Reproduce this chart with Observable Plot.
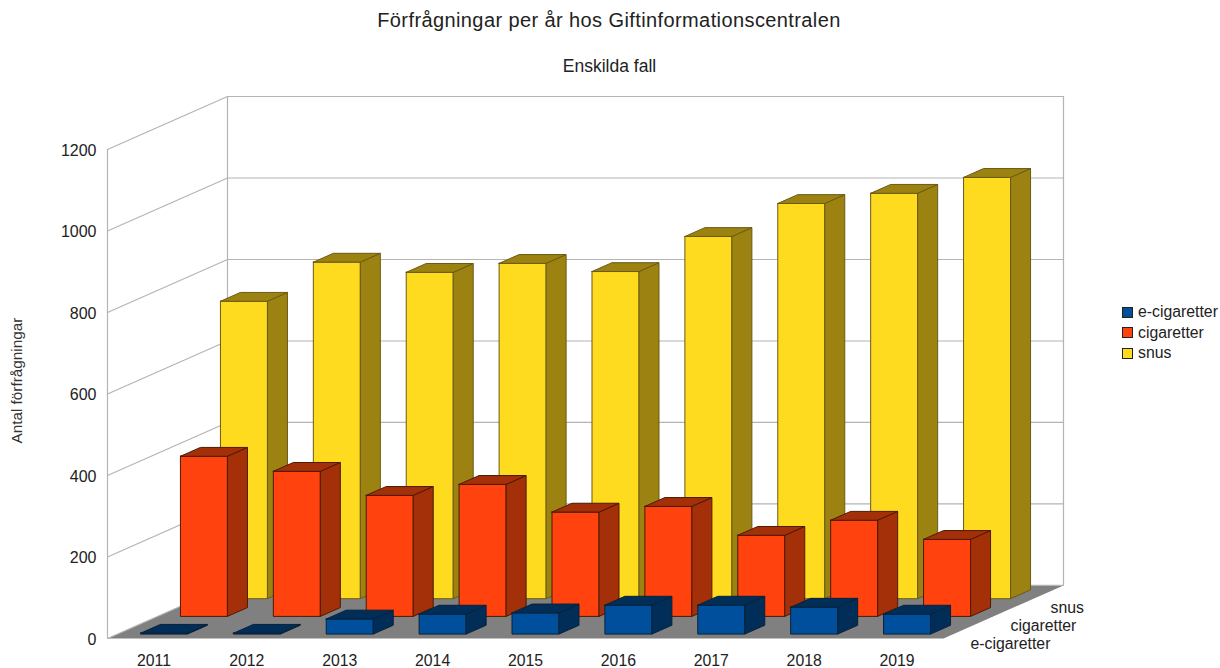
<!DOCTYPE html>
<html><head><meta charset="utf-8">
<script src="https://cdn.jsdelivr.net/npm/d3@7"></script>
<script src="https://cdn.jsdelivr.net/npm/@observablehq/plot@0.6"></script>
<style>
html,body{margin:0;padding:0;background:#fff;font-family:"Liberation Sans",sans-serif;color:#222}
#wrap{position:relative;width:1220px;height:668px;overflow:hidden}
#head{height:80px;position:relative}
#t{position:absolute;left:0;width:1218px;top:9px;text-align:center;font-size:20px;letter-spacing:.4px;line-height:22px}
#s{position:absolute;left:0;width:1219px;top:56px;text-align:center;font-size:17.5px;line-height:20px}
#legend{position:absolute;left:1122px;top:302px;font-size:15.8px;line-height:20.5px}
#legend div{display:flex;align-items:center;white-space:nowrap}
#legend i{display:inline-block;width:9px;height:9px;border:1px solid #222;margin-right:5px}
svg{display:block;font-family:"Liberation Sans",sans-serif}
</style></head><body>
<div id="wrap">
<div id="head"><div id="t"></div><div id="s"></div></div>
<div id="chart"></div>
<div id="legend"></div>
</div>
<script>
const titleText = "Förfrågningar per år hos Giftinformationscentralen";
const subtitleText = "Enskilda fall";
const yLabelText = "Antal förfrågningar";
const years = [2011,2012,2013,2014,2015,2016,2017,2018,2019];
const seriesNames = ["e-cigaretter","cigaretter","snus"];
const ecig = [2,2,37,49,52,71,71,66,49];
const cig = [393,356,297,324,256,270,199,236,189];
const snus = [730,826,801,823,803,889,970,995,1034];
const yTicks = [0,200,400,600,800,1000,1200];
const frontColors = ["#004f9c","#ff420e","#ffdb1f"];
const sideColors = ["#002e58","#a33008","#9c8210"];
const strokeColors = ["#0a2238","#4d1a05","#6b5a14"];

// oblique chart geometry, in chart units: one depth slot shifts a point along x and y
const depthX = 0.4306, depthY = 43.4, depthSlots = 3, yMax = 1200;
const barW = 0.506, barD = 0.5;
const px = (c,d) => c + d*depthX;
const py = (v,d) => v + d*depthY;
const seriesValues = [ecig,cig,snus];

const walls=[], polys=[];
let id=0;
const poly=(list,pts,fill,stroke)=>{id++;[...pts,pts[0]].forEach(([c,v,d])=>list.push({id,x:px(c,d),y:py(v,d),fill,stroke}));};

const n=years.length;
poly(walls,[[0,0,0],[n,0,0],[n,0,depthSlots],[0,0,depthSlots]],"#808080","#b4b4b4");
const gridLines=[];
yTicks.forEach(v=>{id++;[[0,v,0],[0,v,depthSlots],[n,v,depthSlots]].forEach(([c,val,d])=>gridLines.push({id,x:px(c,d),y:py(val,d)}));});
[[[0,0,0],[0,yMax,0]],[[0,0,depthSlots],[0,yMax,depthSlots]],[[n,0,depthSlots],[n,yMax,depthSlots]]].forEach(seg=>{id++;seg.forEach(([c,val,d])=>gridLines.push({id,x:px(c,d),y:py(val,d)}));});

for(let s=2;s>=0;s--){
  years.forEach((yr,i)=>{
    const v=seriesValues[s][i];
    const c0=i+(1-barW)/2,c1=c0+barW,d0=s+(1-barD)/2,d1=d0+barD;
    poly(polys,[[c0,v,d0],[c1,v,d0],[c1,0,d0],[c0,0,d0]],frontColors[s],strokeColors[s]);
    poly(polys,[[c1,v,d0],[c1,v,d1],[c1,0,d1],[c1,0,d0]],sideColors[s],strokeColors[s]);
    poly(polys,[[c0,v,d0],[c1,v,d0],[c1,v,d1],[c0,v,d1]],sideColors[s],strokeColors[s]);
  });
}

const depthLabels=seriesNames.map((name,s)=>({name,x:px(n,s+0.5),y:py(0,s+0.5)}));

const chart=Plot.plot({
  width:1220,height:588,marginTop:16,marginBottom:30,marginLeft:107,marginRight:157,
  x:{domain:[0,px(n,depthSlots)],axis:null},
  y:{domain:[0,py(yMax,depthSlots)],axis:null},
  color:{type:"identity"},
  marks:[
    Plot.line(walls,{x:"x",y:"y",z:"id",fill:"fill",stroke:"none",curve:"linear"}),
    Plot.line(gridLines,{x:"x",y:"y",z:"id",stroke:"#b4b4b4",strokeWidth:1.2,curve:"linear"}),
    Plot.line(polys,{x:"x",y:"y",z:"id",fill:"fill",stroke:"stroke",strokeWidth:1,strokeLinejoin:"round",curve:"linear"}),
    Plot.axisY({ticks:yTicks,tickSize:0,tickPadding:11,tickFormat:v=>String(v),label:null,fontSize:16,dy:1,color:"#222"}),
    Plot.axisX({ticks:years.map((_,i)=>i+.5),tickFormat:t=>String(years[t-.5]),tickSize:0,tickPadding:16,label:null,fontSize:15.8,color:"#222"}),
    Plot.text(depthLabels,{x:"x",y:"y",text:"name",textAnchor:"start",dx:7,dy:14,fontSize:15.8,fill:"#222"}),
    Plot.text([yLabelText],{frameAnchor:"left",rotate:-90,dx:-90,dy:76,fontSize:15.3,fill:"#333"})
  ]
});
document.getElementById("chart").append(chart);
document.getElementById("t").textContent=titleText;
document.getElementById("s").textContent=subtitleText;
const lg=document.getElementById("legend");
seriesNames.forEach((name,s)=>{const d=document.createElement("div");const sw=document.createElement("i");sw.style.background=frontColors[s];d.append(sw,name);lg.append(d);});
</script>
</body></html>
